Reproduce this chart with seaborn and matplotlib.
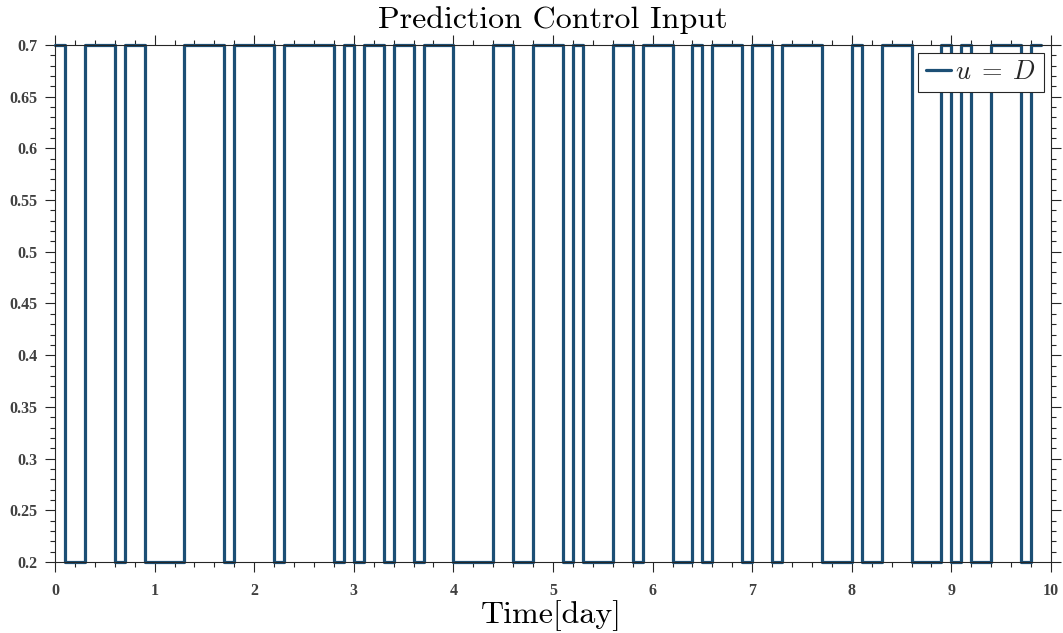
import numpy as np
import pandas as pd
import matplotlib
matplotlib.use("Agg")
import matplotlib.pyplot as plt
from matplotlib.ticker import MultipleLocator, FormatStrFormatter
import seaborn as sns

# Sampling grid (days) and the applied control input held over each 0.1-day step
time_days = np.round(np.arange(0, 100) * 0.1, 1)
u_values = [
    0.7, 0.2, 0.2, 0.7, 0.7, 0.7, 0.2, 0.7, 0.7, 0.2,
    0.2, 0.2, 0.2, 0.7, 0.7, 0.7, 0.7, 0.2, 0.7, 0.7,
    0.7, 0.7, 0.2, 0.7, 0.7, 0.7, 0.7, 0.7, 0.2, 0.7,
    0.2, 0.7, 0.7, 0.2, 0.7, 0.7, 0.2, 0.7, 0.7, 0.7,
    0.2, 0.2, 0.2, 0.2, 0.7, 0.7, 0.2, 0.2, 0.7, 0.7,
    0.7, 0.2, 0.7, 0.2, 0.2, 0.2, 0.7, 0.7, 0.2, 0.7,
    0.7, 0.7, 0.2, 0.2, 0.7, 0.2, 0.7, 0.7, 0.7, 0.2,
    0.7, 0.7, 0.2, 0.7, 0.7, 0.7, 0.7, 0.2, 0.2, 0.2,
    0.7, 0.2, 0.2, 0.7, 0.7, 0.7, 0.2, 0.2, 0.2, 0.7,
    0.2, 0.7, 0.2, 0.2, 0.7, 0.7, 0.7, 0.2, 0.7, 0.7,
]
x_ticks = list(range(0, 11))
y_ticks = [0.2, 0.25, 0.3, 0.35, 0.4, 0.45, 0.5, 0.55, 0.6, 0.65, 0.7]

df = pd.DataFrame({"t": time_days, "u": u_values})

sns.set_style("ticks")
plt.rcParams["mathtext.fontset"] = "cm"
plt.rcParams["font.family"] = ["Liberation Serif", "DejaVu Serif"]

axis_color = "#262626"
line_color = "#1c4f75"

fig = plt.figure(figsize=(10.63, 6.33), dpi=100)
ax_h = 562 - 45
ax = fig.add_axes([55 / 1063, 1 - 562 / 633, (1051 - 55) / 1063, ax_h / 633])

sns.lineplot(data=df, x="t", y="u", ax=ax, drawstyle="steps-post",
             color=line_color, linewidth=2.3, label=r"$u\;=\;D$", clip_on=False)

ax.set_xlim(0, 10)
ax.set_ylim(0.2, 0.7)
ax.set_xticks(x_ticks)
ax.set_yticks(y_ticks)
ax.xaxis.set_minor_locator(MultipleLocator(0.2))
ax.yaxis.set_minor_locator(MultipleLocator(0.01))
ax.yaxis.set_major_formatter(FormatStrFormatter("%g"))

for side in ["top", "right", "bottom", "left"]:
    ax.spines[side].set_visible(True)
    ax.spines[side].set_color(axis_color)
    ax.spines[side].set_linewidth(0.8)

ax.tick_params(which="both", direction="out", top=True, right=True,
               color=axis_color, width=0.8)
ax.tick_params(which="major", length=7.5, labelsize=11.5, labelcolor="#404040")
ax.tick_params(which="minor", length=3.6)
ax.tick_params(axis="x", which="major", pad=7.5)
ax.tick_params(axis="y", which="major", pad=5)
for lbl in ax.get_xticklabels() + ax.get_yticklabels():
    lbl.set_fontweight("bold")

ax.set_title("Prediction Control Input", fontfamily="cmr10", fontsize=23,
             y=1.0, pad=12, color="black")
ax.set_xlabel("Time[day]", fontfamily="cmr10", fontsize=23, color="black")
ax.xaxis.label.set_verticalalignment("baseline")
ax.xaxis.set_label_coords(0.498, -(623 - 562) / ax_h)
ax.set_ylabel("")

leg = ax.legend(loc="upper right", bbox_to_anchor=(0.993, 0.985), fontsize=19,
                handlelength=0.95, handletextpad=0.15, borderpad=0.3,
                borderaxespad=0.0, frameon=True, fancybox=False)
leg.get_frame().set_edgecolor(axis_color)
leg.get_frame().set_linewidth(0.8)
leg.get_frame().set_alpha(1.0)

fig.savefig("out.png", dpi=100)
